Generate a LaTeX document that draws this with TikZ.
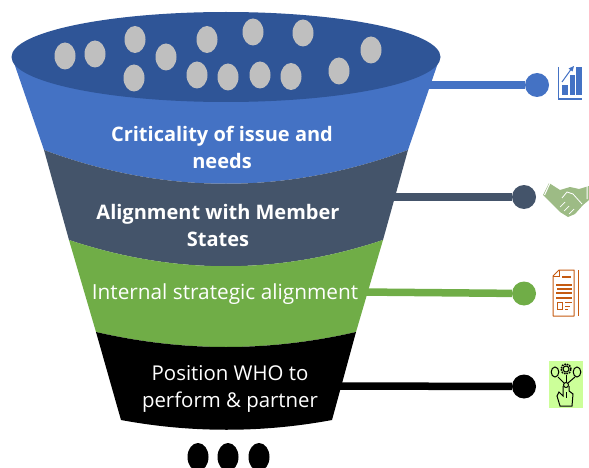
\documentclass[tikz,border=0pt]{standalone}
\usepackage{fontspec}
\usetikzlibrary{shapes.geometric}
\setmainfont{Open Sans}
\definecolor{topblue}{HTML}{2F5597}
\definecolor{bandblue}{HTML}{4472C4}
\definecolor{bandslate}{HTML}{44546A}
\definecolor{bandgreen}{HTML}{70AD47}
\definecolor{dotgrey}{HTML}{BFBFBF}
\definecolor{shakegreen}{HTML}{9DBB85}
\definecolor{docorange}{HTML}{C55A11}
\definecolor{handbg}{HTML}{CCFF99}
\begin{document}
\begin{tikzpicture}[
        x=1pt,y=-1pt,
        ball/.style={ellipse,minimum width=21pt,minimum height=27pt,inner sep=0pt,fill=dotgrey},
        blackball/.style={ball,fill=black,minimum height=28pt},
        endcap/.style={circle,minimum size=24pt,inner sep=0pt},
        wire/.style={line width=7.5pt},
        bandlabel/.style={text=white,align=center,font=\fontsize{20.4}{27}\selectfont},
        boldlabel/.style={bandlabel,font=\fontsize{20}{27}\selectfont\bfseries}
    ]
    \useasboundingbox (0,0) rectangle (589,468);

    % connectors
    \coordinate (s1) at (420,85);
    \coordinate (s2) at (385,197);
    \coordinate (s3) at (360,292);
    \coordinate (s4) at (335,386);
    \node[endcap,fill=bandblue] (c1) at (537,85) {};
    \node[endcap,fill=bandslate] (c2) at (524,197) {};
    \node[endcap,fill=bandgreen] (c3) at (524,293.5) {};
    \node[endcap,fill=black] (c4) at (524,386.5) {};
    \draw[wire,bandblue] (s1) -- (c1);
    \draw[wire,bandslate] (s2) -- (c2);
    \draw[wire,bandgreen] (s3) -- (c3);
    \draw[wire,black] (s4) -- (c4);

    % funnel bands
    \fill[bandblue] (12,57) -- (44,150) .. controls (165,195) and (287,195) .. (408,150) -- (440,57) -- cycle;
    \fill[bandslate] (44,150) .. controls (165,195) and (287,195) .. (408,150) -- (383,240)
        .. controls (278,275) and (174,275) .. (69,240) -- cycle;
    \fill[bandgreen] (69,240) .. controls (174,275) and (278,275) .. (383,240) -- (356,332)
        .. controls (269,352) and (183,352) .. (96,332) -- cycle;
    \fill[black] (96,332) .. controls (183,352) and (269,352) .. (356,332) -- (332,420)
        .. controls (262,433) and (191,433) .. (121,420) -- cycle;
    \node[ellipse,fill=topblue,minimum width=429pt,minimum height=90pt,inner sep=0pt] (mouth) at (226,57) {};

    % balls in the mouth
    \node[ball] (b1) at (65,56) {};
    \node[ball] (b2) at (95,54) {};
    \node[ball] (b3) at (135,39.5) {};
    \node[ball] (b4) at (166,57) {};
    \node[ball] (b5) at (134,78) {};
    \node[ball] (b6) at (207,39.5) {};
    \node[ball] (b7) at (253,32) {};
    \node[ball] (b8) at (303,33) {};
    \node[ball] (b9) at (371,50) {};
    \node[ball] (b10) at (197,75) {};
    \node[ball] (b11) at (228,77) {};
    \node[ball] (b12) at (260,75) {};
    \node[ball] (b13) at (291,76.5) {};
    \node[ball] (b14) at (339,71) {};

    % labels
    \node[boldlabel] (critical) at (222,147) {Criticality of issue and\\needs};
    \node[boldlabel] (member) at (218,225) {Alignment with Member\\States};
    \node[bandlabel,font=\fontsize{20.8}{27}\selectfont] (internal) at (225,294) {Internal strategic alignment};
    \node[bandlabel] (position) at (230,389) {Position WHO to\\perform \& partner};

    % balls below the funnel
    \node[blackball] (out1) at (198,457) {};
    \node[blackball] (out2) at (228,457) {};
    \node[blackball] (out3) at (259,457) {};

    % chart icon
    \draw[bandblue,line width=1pt] (558.5,67) -- (558.5,99.5);
    \draw[bandblue,line width=2pt] (558,99) -- (582,99);
    \fill[bandblue] (562,85) rectangle (568,95);
    \fill[bandblue] (570,75) rectangle (575,95);
    \fill[bandblue] (576,67) rectangle (582,95);
    \draw[bandblue,line width=1pt] (562,82) -- (572,68);
    \fill[bandblue] (574,66) -- (568.5,68.5) -- (572.5,71.5) -- cycle;

    % handshake icon
    \fill[shakegreen] (549,183) -- (543,195) -- (552,204) -- (560,212) -- (568,217) -- (575,214)
        -- (583,205) -- (589,200) -- (589,186) -- (579,189) -- (570,187) -- (560,190) -- cycle;
    \draw[white,line width=0.8pt,line join=round] (562,198) -- (567,192) -- (573,194) -- (582,204);
    \draw[white,line width=0.7pt] (560,207) -- (565,202) (564,211) -- (569,206) (569,214) -- (574,209);
    \draw[white,line width=1pt] (550,183) -- (544.5,195) (587,186) -- (587,199);

    % document icon
    \draw[docorange,line width=1pt,line join=round] (559,270) -- (574,270) -- (574,316) -- (553,316) -- (553,276) -- cycle;
    \draw[docorange,line width=0.8pt] (559,270) -- (559,276) -- (553,276);
    \draw[docorange,line width=1pt] (578,270) -- (578,316);
    \foreach \ya/\xa/\xb in {277/562/571,285/556/572,289/557/572,293/556/572,298/556/572}
        \draw[docorange,line width=1.2pt] (\xa,\ya) -- (\xb,\ya);
    \draw[docorange,line width=1pt] (557,302) rectangle (562,309);
    \draw[docorange,line width=1pt] (565,302) -- (572,302) (565,306) -- (570,306) (565,309) -- (568,309);

    % hand icon
    \fill[handbg] (549,361) rectangle (583,408);
    \begin{scope}[black,line width=1pt]
        \draw (555,372) ellipse (3.8pt and 5pt);
        \draw (566,369) circle (3pt);
        \draw[line width=1.6pt,densely dotted] (566,369) circle (5pt);
        \draw (577,372) ellipse (3.8pt and 5pt);
        \draw (558,377) -- (564,383);
        \draw (566,375) -- (566,382);
        \draw (575,377) -- (568,383);
        \draw (566,385) circle (2.5pt);
        \draw (563,386) -- (563,396) -- (559,392) -- (557,396) -- (560,406) -- (572,406) -- (573,394) -- (569,391) -- (569,386);
        \draw (566,392) -- (566,398);
    \end{scope}
\end{tikzpicture}
\end{document}
